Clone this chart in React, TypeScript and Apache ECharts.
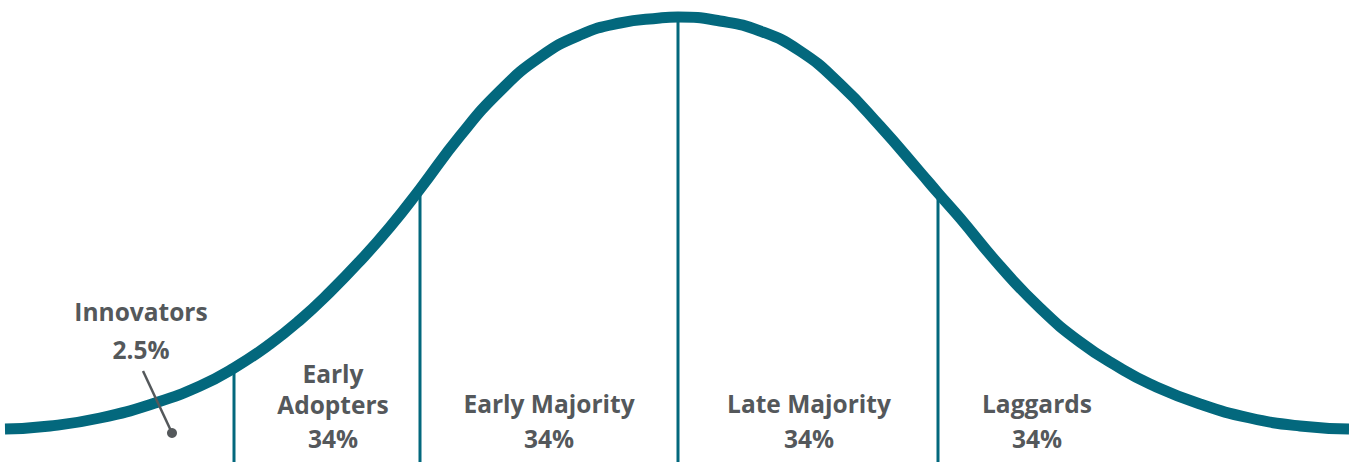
import React, { useEffect, useRef } from "react";
import * as echarts from "echarts";

// Adoption curve (x position, curve height)
const curveX = [5, 50, 100, 155, 200, 234, 270, 300, 330, 360, 390, 420, 460, 500, 540, 580, 620, 660, 678, 720, 760, 800, 840, 880, 920, 938, 960, 1000, 1040, 1080, 1120, 1150, 1200, 1250, 1300, 1349];
const curveY = [33, 36, 44, 59, 76, 94, 118, 142, 170, 201, 235, 273, 326, 371, 405, 427, 439, 444, 445, 441, 431, 411, 378, 336, 290, 269, 244, 196, 154, 120, 94, 78, 58, 44, 36, 33];

// Segment dividers
const dividerX = [234, 420, 678, 938];
const dividerTop = [94, 273, 445, 269];

// Segment labels
const segmentNames = [["Innovators"], ["Early", "Adopters"], ["Early Majority"], ["Late Majority"], ["Laggards"]];
const segmentShares = ["2.5%", "34%", "34%", "34%", "34%"];

const TEAL = "#03687d";
const GREY = "#54585b";
const FONT = "'Open Sans', Lato, sans-serif";

export default function App() {
  const ref = useRef<HTMLDivElement>(null);
  useEffect(() => {
    document.body.style.margin = "0";
    const chart = echarts.init(ref.current!, null, { renderer: "svg" });
    const curveData = curveX.map((x, i) => [x, curveY[i]]);
    const dividerSeries = dividerX.map((x, i) => ({
      type: "line",
      data: [[x, 0], [x, dividerTop[i]]],
      symbol: "none",
      lineStyle: { color: TEAL, width: 3 },
      z: 2,
      silent: true,
    }));

    const txt = (text: string, x: number, y: number) => ({
      type: "text",
      x,
      y,
      style: {
        text,
        fill: GREY,
        font: `bold 24.5px ${FONT}`,
        textAlign: "center",
        textVerticalAlign: "middle",
      },
    });

    const labelCenters = [141, 333, 549, 809, 1037];
    const graphics: any[] = [];
    graphics.push(txt(segmentNames[0][0], labelCenters[0], 311));
    graphics.push(txt(segmentShares[0], labelCenters[0], 349));
    graphics.push(txt(segmentNames[1][0], labelCenters[1], 373));
    graphics.push(txt(segmentNames[1][1], labelCenters[1], 404));
    graphics.push(txt(segmentShares[1], labelCenters[1], 438));
    for (let i = 2; i < 5; i++) {
      graphics.push(txt(segmentNames[i][0], labelCenters[i], 403));
      graphics.push(txt(segmentShares[i], labelCenters[i], 438));
    }
    graphics.push({
      type: "line",
      shape: { x1: 143, y1: 371, x2: 172, y2: 433 },
      style: { stroke: GREY, lineWidth: 2.5 },
      z: 100,
    });
    graphics.push({
      type: "circle",
      shape: { cx: 172, cy: 433, r: 5 },
      style: { fill: GREY },
      z: 100,
    });

    chart.setOption({
      animation: false,
      backgroundColor: "#ffffff",
      grid: { left: 0, right: 0, top: 0, bottom: 0 },
      xAxis: { type: "value", min: 0, max: 1349, show: false },
      yAxis: { type: "value", min: 0, max: 462, show: false },
      series: [
        ...dividerSeries,
        {
          type: "line",
          data: curveData,
          smooth: 0.5,
          symbol: "none",
          lineStyle: { color: TEAL, width: 11, cap: "butt" },
          z: 3,
          silent: true,
        },
      ],
      graphic: graphics,
    });
    return () => chart.dispose();
  }, []);
  return <div ref={ref} style={{ position: "absolute", left: 0, top: 0, width: 1349, height: 462 }} />;
}
